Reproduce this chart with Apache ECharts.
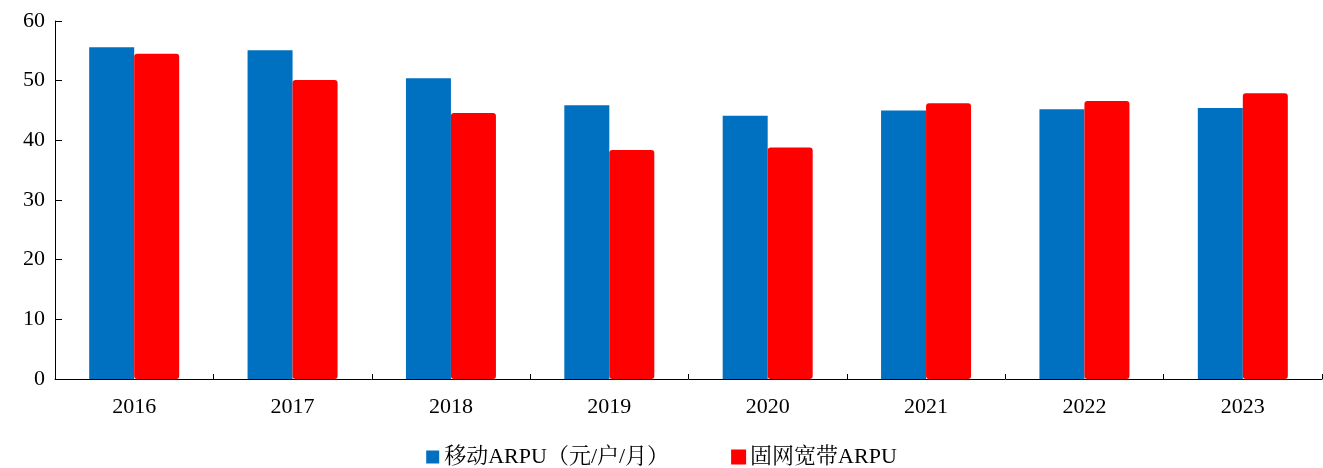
<!DOCTYPE html>
<html><head><meta charset="utf-8">
<script src="https://cdn.jsdelivr.net/npm/echarts@6/dist/echarts.min.js"></script>
<style>html,body{margin:0;padding:0;background:#fff}#c{width:1323px;height:468px}</style>
</head><body><div id="c"></div>
<script>
const categories = ['2016','2017','2018','2019','2020','2021','2022','2023'];
const mobileArpu = [55.6, 55.1, 50.4, 45.9, 44.1, 45.0, 45.2, 45.4];
const broadbandArpu = [54.5, 50.1, 44.6, 38.4, 38.8, 46.2, 46.6, 47.9];
const seriesNames = ['移动ARPU（元/户/月）', '固网宽带ARPU'];
const FONT = "'Liberation Serif', 'Times New Roman', 'Noto Serif CJK SC', 'Noto Sans CJK SC', serif";
const chart = echarts.init(document.getElementById('c'));
chart.setOption({
  animation: false,
  textStyle: { fontFamily: FONT },
  grid: { left: 55, right: 1, top: 21, bottom: 89, containLabel: false },
  legend: {
    top: 441, left: 'center', itemWidth: 13, itemHeight: 13, itemGap: 62, padding: 5,
    textStyle: { fontFamily: FONT, fontSize: 22, color: '#000' },
    icon: 'rect',
    data: seriesNames
  },
  xAxis: {
    type: 'category', data: categories,
    axisLine: { lineStyle: { color: '#000', width: 1 } },
    axisTick: { show: true, inside: true, length: 5, alignWithLabel: false, lineStyle: { color: '#000' } },
    axisLabel: { color: '#000', fontSize: 22, margin: 17, fontFamily: FONT }
  },
  yAxis: {
    type: 'value', min: 0, max: 60, interval: 10,
    splitLine: { show: false },
    axisLine: { show: true, lineStyle: { color: '#000', width: 1 } },
    axisTick: { show: true, inside: true, length: 7, lineStyle: { color: '#000' } },
    axisLabel: { color: '#000', fontSize: 22, margin: 10, fontFamily: FONT }
  },
  series: [
    { name: seriesNames[0], type: 'bar', data: mobileArpu, barWidth: 45, barGap: '0%',
      itemStyle: { color: '#0070C0' } },
    { name: seriesNames[1], type: 'bar', data: broadbandArpu, barWidth: 45,
      itemStyle: { color: '#FF0000', borderColor: '#FF0000', borderWidth: 2, borderRadius: 2 } }
  ]
});
</script></body></html>
